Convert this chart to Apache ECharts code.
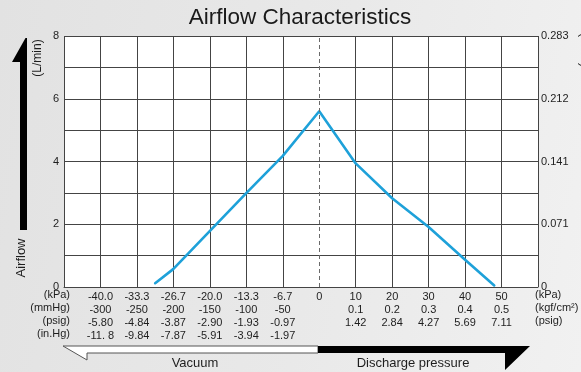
<!DOCTYPE html>
<html>
<head>
<meta charset="utf-8">
<script src="https://cdn.jsdelivr.net/npm/echarts@6/dist/echarts.min.js"></script>
<style>
  html, body { margin: 0; padding: 0; }
  #chart {
    width: 581px; height: 372px;
    background: linear-gradient(100deg, #e2e2e2 0%, #e9e9e9 55%, #f1f1f1 100%);
  }
</style>
</head>
<body>
<div id="chart"></div>
<script>
// Pressure columns (kPa) and the matching rows of converted units
const kpaTicks   = ['', '-40.0', '-33.3', '-26.7', '-20.0', '-13.3', '-6.7', '0', '10', '20', '30', '40', '50', ''];
const row2Ticks  = ['', '-300', '-250', '-200', '-150', '-100', '-50', '', '0.1', '0.2', '0.3', '0.4', '0.5', ''];
const row3Ticks  = ['', '-5.80', '-4.84', '-3.87', '-2.90', '-1.93', '-0.97', '', '1.42', '2.84', '4.27', '5.69', '7.11', ''];
const row4Ticks  = ['', '-11. 8', '-9.84', '-7.87', '-5.91', '-3.94', '-1.97', '', '', '', '', '', '', ''];
const leftUnits  = ['(kPa)', '(mmHg)', '(psig)', '(in.Hg)'];
const rightUnits = ['(kPa)', '(kgf/cm\u00b2)', '(psig)'];
const flowTicksRight = ['0', '0.071', '0.141', '0.212', '0.283'];

// Airflow curve: pressure (kPa) vs airflow (L/min)
const pressureKpa = [-30, -26.7, -13.3, -6.7, 0, 10, 20, 30, 40, 48];
const airflowLmin = [0.12, 0.57, 3.0, 4.17, 5.6, 3.94, 2.83, 1.91, 0.87, 0.05];

// Vacuum columns are 6.67 kPa apart, discharge columns 10 kPa apart;
// each column is one step of the horizontal axis, 0 kPa sits at step 7.
function kpaToStep(k) {
  return k < 0 ? 7 + k / (20 / 3) : 7 + k / 10;
}

const FONT = '"Liberation Sans", Arial, Helvetica, sans-serif';
const TXT = '#1e1e1e';
const GRID_COLOR = '#444444';

const seriesData = pressureKpa.map((k, i) => [kpaToStep(k), airflowLmin[i]]);

// vertical grid colours: the 0 kPa line is drawn dashed separately
const vLineColors = kpaTicks.map((_, i) => (i === 7 ? 'rgba(0,0,0,0)' : GRID_COLOR));

const rowY = [295, 308, 321, 334];

const graphics = [];
// left vertical arrow
graphics.push({
  type: 'polygon',
  shape: { points: [[27, 38], [25.5, 38], [12, 62], [20, 62], [20, 230], [27, 230]] },
  style: { fill: '#000' }
});
graphics.push({
  type: 'text', x: 38, y: 58, rotation: Math.PI / 2,
  style: { text: '(L/min)', font: '12px ' + FONT, fill: TXT, align: 'center', verticalAlign: 'middle' }
});
graphics.push({
  type: 'text', x: 21, y: 258, rotation: Math.PI / 2,
  style: { text: 'Airflow', font: '13px ' + FONT, fill: TXT, align: 'center', verticalAlign: 'middle' }
});
// secondary flow unit at the right border
graphics.push({
  type: 'text', x: 584, y: 33, rotation: -Math.PI / 2,
  style: { text: '(CFM)', font: '12px ' + FONT, fill: TXT, align: 'left', verticalAlign: 'middle' }
});
// unit captions of the pressure rows
leftUnits.forEach((u, i) => graphics.push({
  type: 'text', x: 70, y: rowY[i],
  style: { text: u, font: '11px ' + FONT, fill: TXT, align: 'right', verticalAlign: 'middle' }
}));
rightUnits.forEach((u, i) => graphics.push({
  type: 'text', x: 535, y: rowY[i],
  style: { text: u, font: '11px ' + FONT, fill: TXT, align: 'left', verticalAlign: 'middle' }
}));
// bottom direction band: vacuum (white) and discharge (black)
graphics.push({
  type: 'polygon',
  shape: { points: [[63, 346], [318, 346], [318, 353], [87, 353], [87, 360]] },
  style: { fill: '#fff', stroke: '#555', lineWidth: 1 }
});
graphics.push({
  type: 'polygon',
  shape: { points: [[318, 346], [530, 346], [505, 370], [505, 353], [318, 353]] },
  style: { fill: '#000' }
});
graphics.push({
  type: 'text', x: 195, y: 363,
  style: { text: 'Vacuum', font: '13px ' + FONT, fill: TXT, align: 'center', verticalAlign: 'middle' }
});
graphics.push({
  type: 'text', x: 413, y: 363,
  style: { text: 'Discharge pressure', font: '13px ' + FONT, fill: TXT, align: 'center', verticalAlign: 'middle' }
});
// chart title
graphics.push({
  type: 'text', x: 300, y: 18,
  style: { text: 'Airflow Characteristics', font: '22.5px ' + FONT, fill: '#1a1a1a', align: 'center', verticalAlign: 'middle' }
});

const chart = echarts.init(document.getElementById('chart'), null, { renderer: 'canvas' });
chart.setOption({
  animation: false,
  backgroundColor: 'transparent',
  textStyle: { fontFamily: FONT },
  grid: {
    left: 64, right: 43, top: 36, bottom: 85,
    show: true, backgroundColor: '#ffffff', borderWidth: 0
  },
  xAxis: {
    type: 'value', min: 0, max: 13, interval: 1,
    axisLine: { show: true, lineStyle: { color: GRID_COLOR, width: 1 } },
    axisTick: { show: false },
    splitLine: { show: true, lineStyle: { color: vLineColors, width: 1 } },
    axisLabel: {
      margin: 3,
      fontSize: 11, color: TXT, lineHeight: 13,
      showMinLabel: true, showMaxLabel: true,
      formatter: v => {
        const i = Math.round(v);
        return [kpaTicks[i], row2Ticks[i], row3Ticks[i], row4Ticks[i]].join('\n');
      }
    }
  },
  yAxis: [
    {
      type: 'value', min: 0, max: 8, interval: 1,
      axisLine: { show: false }, axisTick: { show: false },
      splitLine: { show: true, lineStyle: { color: GRID_COLOR, width: 1 } },
      axisLabel: {
        margin: 5, fontSize: 11, color: TXT,
        formatter: v => (v % 2 === 0 ? String(v) : '')
      }
    },
    {
      type: 'value', min: 0, max: 8, interval: 2, position: 'right',
      axisLine: { show: false }, axisTick: { show: false },
      splitLine: { show: false },
      axisLabel: {
        margin: 3, fontSize: 11, color: TXT,
        formatter: v => flowTicksRight[Math.round(v / 2)]
      }
    }
  ],
  series: [{
    type: 'line',
    data: seriesData,
    symbol: 'none',
    lineStyle: { color: '#1ea1d9', width: 2.6, cap: 'round', join: 'round' },
    markLine: {
      silent: true,
      symbol: ['none', 'none'],
      label: { show: false },
      lineStyle: { color: '#6a6a6a', type: [4, 3], width: 1 },
      data: [{ xAxis: 7 }]
    }
  }],
  graphic: graphics
});
</script>
</body>
</html>
